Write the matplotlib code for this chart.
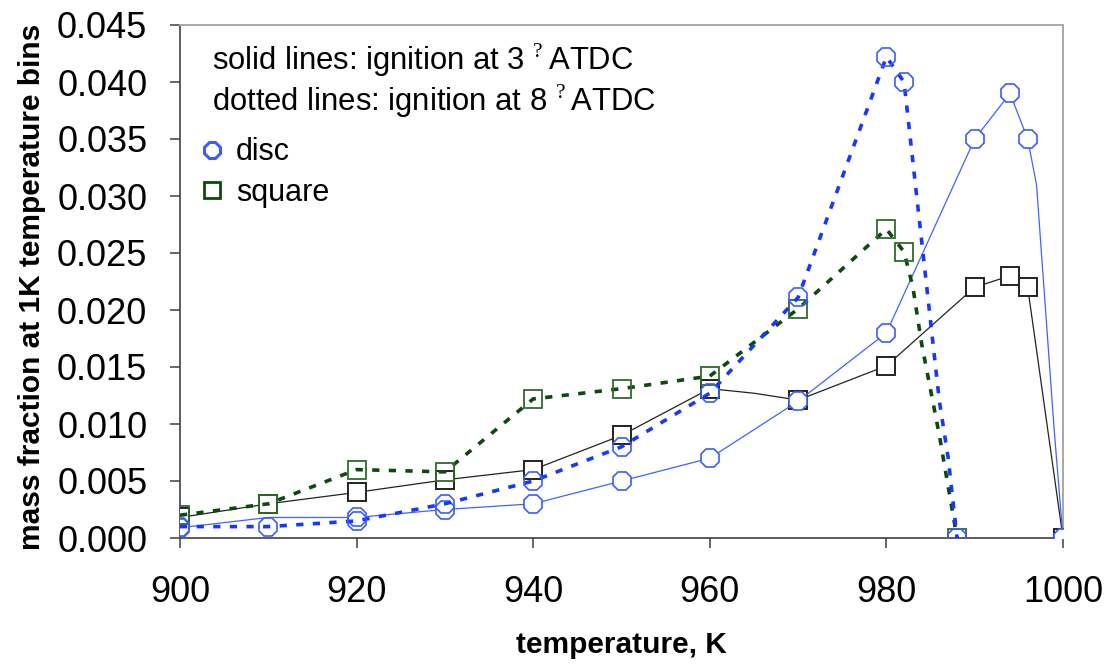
import matplotlib
matplotlib.use("Agg")
import matplotlib.pyplot as plt
from matplotlib.lines import Line2D
from matplotlib.ticker import FormatStrFormatter, MultipleLocator

plt.rcParams['font.family'] = ['Liberation Sans', 'DejaVu Sans']
plt.rcParams['mathtext.fontset'] = 'custom'
plt.rcParams['mathtext.rm'] = 'Liberation Serif'

# ---- data ----
# disc, ignition at 3 deg ATDC (solid)
disc3_T = [900, 910, 920, 930, 940, 950, 960, 970, 980, 990, 994, 996, 997, 999, 1000]
disc3_v = [0.0009, 0.0018, 0.0018, 0.0025, 0.003, 0.005, 0.007, 0.012, 0.018,
           0.035, 0.039, 0.035, 0.031, 0.0095, 0.0]
disc3_markers = [900, 920, 930, 940, 950, 960, 970, 980, 990, 994, 996, 1000]

# square, ignition at 3 deg ATDC (solid)
square3_T = [900, 910, 920, 930, 940, 950, 960, 965, 970, 980, 990, 994, 996, 1000]
square3_v = [0.0018, 0.003, 0.004, 0.0051, 0.006, 0.009, 0.0131, 0.0127, 0.0121,
             0.0151, 0.022, 0.023, 0.022, 0.0]
square3_markers = [900, 910, 920, 930, 940, 950, 960, 970, 980, 990, 994, 996, 1000]

# disc, ignition at 8 deg ATDC (dotted)
disc8_T = [900, 910, 920, 930, 940, 950, 960, 970, 980, 982, 984, 985, 986, 987, 988]
disc8_v = [0.001, 0.001, 0.0015, 0.003, 0.005, 0.008, 0.0127, 0.0211, 0.0422,
           0.040, 0.026, 0.019, 0.012, 0.007, 0.0]
disc8_markers = [900, 910, 920, 930, 940, 950, 960, 970, 980, 982, 988]

# square, ignition at 8 deg ATDC (dotted)
square8_T = [900, 910, 920, 930, 940, 950, 960, 970, 980, 982, 983, 984, 985, 986, 987, 988]
square8_v = [0.002, 0.003, 0.006, 0.0058, 0.0122, 0.0131, 0.0142, 0.0201, 0.0271,
             0.0251, 0.022, 0.017, 0.013, 0.009, 0.0045, 0.0]
square8_markers = [900, 910, 920, 930, 940, 950, 960, 970, 980, 982, 988]

x_ticks = [900, 920, 940, 960, 980, 1000]
note_solid = r"solid lines: ignition at 3 ${}^{\mathrm{?}}\,$ATDC"
note_dotted = r"dotted lines: ignition at 8 ${}^{\mathrm{?}}\,$ATDC"
legend_labels = ["disc", "square"]

# ---- style ----
BLUE_SOLID = "#3f63ff"
BLUE_DOT = "#1438ff"
BLUE_MK = "#3a5cff"
GREEN = "#0b4a0b"
GREEN_MK = "#2f6a2f"
BLACK = "#222222"


def idx(T, marks):
    return [i for i, t in enumerate(T) if t in marks]


fig = plt.figure(figsize=(11.07, 6.64), dpi=100)
ax = fig.add_axes([180 / 1107, 1 - 538 / 664, (1063 - 180) / 1107, (538 - 25) / 664])

dash = (0, (2.0, 2.6))
ax.plot(square3_T, square3_v, color=BLACK, lw=0.9, marker='s', ms=12.5,
        mfc='white', mec=BLACK, mew=1.4, markevery=idx(square3_T, square3_markers), zorder=3)
ax.plot(disc3_T, disc3_v, color=BLUE_SOLID, lw=0.9, marker='8', ms=14,
        mfc='white', mec=BLUE_MK, mew=1.2, markevery=idx(disc3_T, disc3_markers), zorder=4)
ax.plot(square8_T, square8_v, color=GREEN, lw=2.6, ls=dash, marker='s', ms=12.5,
        mfc='none', mec=GREEN_MK, mew=1.3, markevery=idx(square8_T, square8_markers), zorder=5)
ax.plot(disc8_T, disc8_v, color=BLUE_DOT, lw=2.6, ls=dash, marker='8', ms=14,
        mfc='none', mec=BLUE_MK, mew=1.2, markevery=idx(disc8_T, disc8_markers), zorder=6)

ax.set_xlim(900, 1000)
ax.set_ylim(0, 0.045)
ax.set_xticks(x_ticks)
ax.yaxis.set_major_locator(MultipleLocator(0.005))
ax.yaxis.set_major_formatter(FormatStrFormatter('%.3f'))

for s in ['left', 'bottom']:
    ax.spines[s].set_color('#404040')
    ax.spines[s].set_linewidth(1.2)
for s in ['top', 'right']:
    ax.spines[s].set_color('#a8a8a8')
    ax.spines[s].set_linewidth(1.4)
ax.spines['bottom'].set_zorder(1)

ax.tick_params(axis='both', direction='out', length=7.5, width=1.1, color='#404040',
               labelsize=26)
ax.tick_params(axis='x', pad=19)
ax.tick_params(axis='y', pad=16)

ax.set_xlabel("temperature, K", fontsize=21.5, fontweight='bold')
ax.set_ylabel("mass fraction at 1K temperature bins", fontsize=21.5, fontweight='bold')
ax.yaxis.set_label_coords(-(180 - 46) / 883, 0.49)
ax.xaxis.set_label_coords(0.5, -(631 - 538) / 513)

fig.text(212 / 1107, 1 - 60 / 664, note_solid, fontsize=22.3, va='center', ha='left')
fig.text(212 / 1107, 1 - 101 / 664, note_dotted, fontsize=22.3, va='center', ha='left')

handles = [Line2D([], [], ls='none', marker='8', ms=12, mfc='white', mec=BLUE_MK, mew=2.2),
           Line2D([], [], ls='none', marker='s', ms=12, mfc='white', mec=GREEN, mew=2.0)]
fig.legend(handles, legend_labels, loc='upper left',
           bbox_to_anchor=(179 / 1107, 1 - 116 / 664), frameon=False, fontsize=22,
           handlelength=0.75, handletextpad=0.41, labelspacing=0.34, borderpad=0.2)

fig.savefig("out.png", dpi=100)
